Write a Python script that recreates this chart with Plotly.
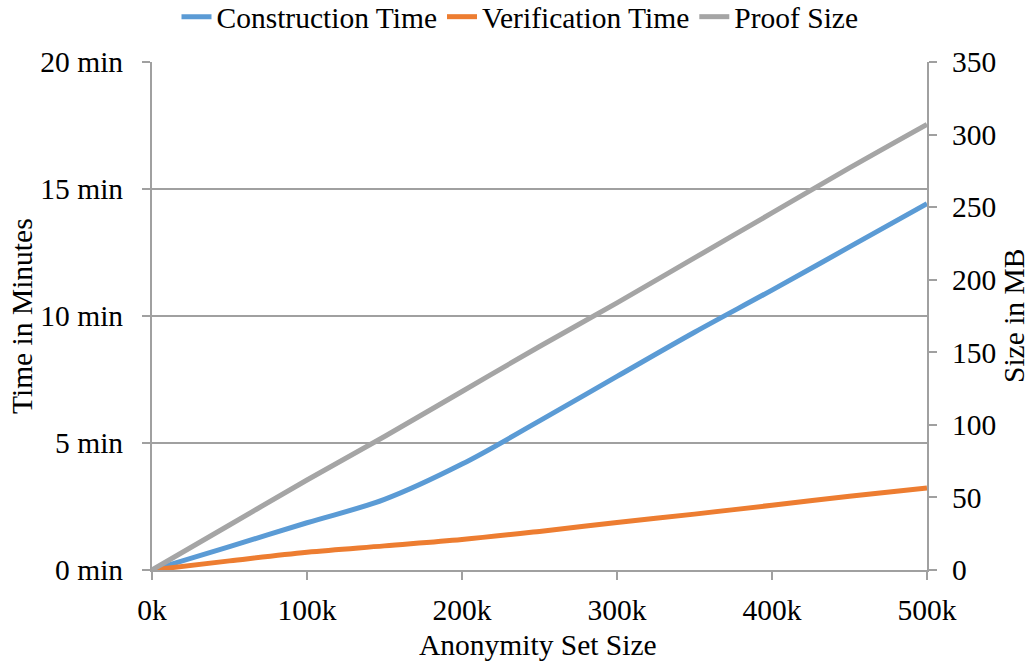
import plotly.graph_objects as go

x_vals = [0, 50000, 100000, 150000, 200000, 250000, 300000, 350000, 400000, 450000, 500000]
construction_min = [0, 0.92, 1.86, 2.78, 4.17, 5.87, 7.62, 9.36, 11.02, 12.72, 14.42]
verification_min = [0, 0.36, 0.70, 0.95, 1.20, 1.52, 1.87, 2.20, 2.55, 2.90, 3.23]
proof_size_mb = [0, 31, 62, 92, 123, 154, 184, 215, 246, 277, 307]

x_tickvals = [0, 100000, 200000, 300000, 400000, 500000]
x_ticktext = ["0k", "100k", "200k", "300k", "400k", "500k"]
y_tickvals = [0, 5, 10, 15, 20]
y_ticktext = ["0 min", "5 min", "10 min", "15 min", "20 min"]

FONT = "Liberation Serif"
AX = "#a0a0a0"
TF = dict(family=FONT, size=29.5, color="#000000")

W, H = 1034, 664
L, R, T, B = 152, 107, 62, 94
PW, PH = W - L - R, H - T - B

fig = go.Figure()
fig.add_trace(go.Scatter(x=x_vals, y=construction_min, name="Construction Time", mode="lines",
                         line=dict(color="#5B9BD5", width=5, shape="spline", smoothing=1)))
fig.add_trace(go.Scatter(x=x_vals, y=verification_min, name="Verification Time", mode="lines",
                         line=dict(color="#ED7D31", width=5, shape="spline", smoothing=1)))
fig.add_trace(go.Scatter(x=x_vals, y=proof_size_mb, name="Proof Size", mode="lines", yaxis="y2",
                         line=dict(color="#A5A5A5", width=5, shape="spline", smoothing=1)))

fig.update_layout(
    width=W, height=H,
    margin=dict(l=L, r=R, t=T, b=B, autoexpand=False),
    paper_bgcolor="white", plot_bgcolor="white",
    font=TF,
    showlegend=True,
    legend=dict(orientation="h", xref="container", x=520 / W, xanchor="center",
                yref="container", y=1 - 17 / H, yanchor="middle",
                font=TF, itemwidth=30, tracegroupgap=0, bgcolor="rgba(0,0,0,0)"),
    xaxis=dict(range=[0, 500000], tickvals=x_tickvals, ticktext=x_ticktext,
               showgrid=False, zeroline=False, showline=True, linecolor=AX, linewidth=2,
               ticks="outside", ticklen=8, tickcolor=AX, tickwidth=2,
               ticklabelstandoff=5, tickfont=TF, automargin=False),
    yaxis=dict(range=[0, 20], tickvals=y_tickvals, ticktext=y_ticktext,
               showgrid=True, gridcolor=AX, gridwidth=2, zeroline=False,
               showline=True, linecolor=AX, linewidth=2,
               ticks="outside", ticklen=8, tickcolor=AX, tickwidth=2,
               ticklabelstandoff=13, tickfont=TF, automargin=False),
    yaxis2=dict(range=[0, 350], dtick=50, overlaying="y", side="right",
                showgrid=False, zeroline=False, showline=True, linecolor=AX, linewidth=2,
                ticks="outside", ticklen=8, tickcolor=AX, tickwidth=2,
                ticklabelstandoff=9, tickfont=TF, automargin=False),
    annotations=[
        dict(text="Time in Minutes", xref="paper", yref="paper",
             x=(22 - L) / PW, y=0.5, xanchor="center", yanchor="middle",
             textangle=-90, showarrow=False, font=TF),
        dict(text="Size in MB", xref="paper", yref="paper",
             x=(1014 - L) / PW, y=0.5, xanchor="center", yanchor="middle",
             textangle=-90, showarrow=False, font=TF),
        dict(text="Anonymity Set Size", xref="paper", yref="paper",
             x=(538 - L) / PW, y=((H - B) - 645) / PH, xanchor="center", yanchor="middle",
             showarrow=False, font=TF),
    ],
)

fig.write_html("out.html", config={"displayModeBar": False},
               post_script="document.body.style.margin='0px';")
